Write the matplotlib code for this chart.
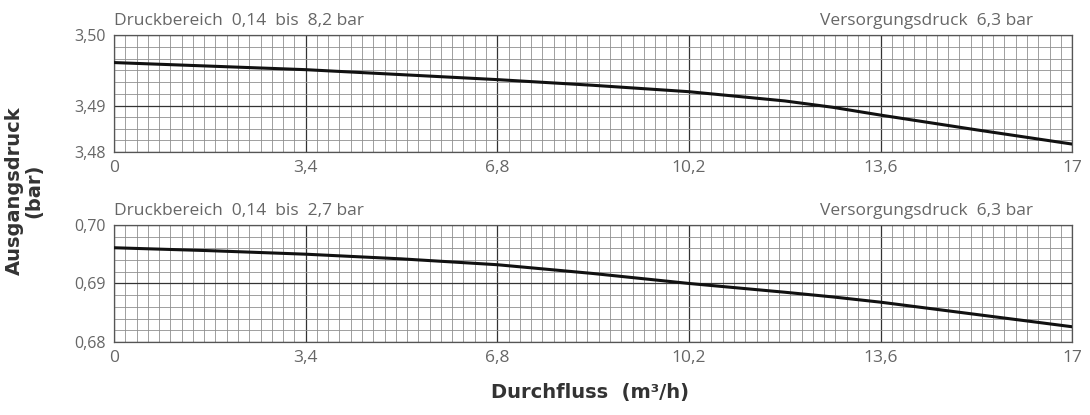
import numpy as np
import matplotlib
matplotlib.use('Agg')
import matplotlib.pyplot as plt
from matplotlib.ticker import FixedLocator

# Durchfluss (m3/h)
flow = [0, 1.7, 3.4, 5.1, 6.8, 8.5, 10.2, 11.9, 12.75, 13.6, 15.3, 17]
# Ausgangsdruck (bar), Druckbereich 0,14 bis 8,2 bar
p_high = [3.4961, 3.4956, 3.4951, 3.4944, 3.4937, 3.4929, 3.4920, 3.4907, 3.4897, 3.4880, 3.4848, 3.4817]
# Ausgangsdruck (bar), Druckbereich 0,14 bis 2,7 bar
p_low = [0.6961, 0.6956, 0.6950, 0.6942, 0.6932, 0.6917, 0.6900, 0.6885, 0.6877, 0.6868, 0.6847, 0.6826]

x_ticks = [0, 3.4, 6.8, 10.2, 13.6, 17]
x_labels = ['0', '3,4', '6,8', '10,2', '13,6', '17']

plt.rcParams['font.family'] = ['Open Sans', 'DejaVu Sans']

fig = plt.figure(figsize=(10.9, 4.15), dpi=100)
ax1 = fig.add_axes([0.1046, 0.634, 0.879, 0.282])
ax2 = fig.add_axes([0.1046, 0.176, 0.879, 0.282])

# obere Skala ist im Original nicht linear: 3,49 liegt bei ca. 39 % der Hoehe
frac = 0.393


def fwd(v):
    v = np.asarray(v, dtype=float)
    return np.where(v < 3.49, (v - 3.48) / 0.01 * frac, frac + (v - 3.49) / 0.01 * (1 - frac))


def inv(t):
    t = np.asarray(t, dtype=float)
    return np.where(t < frac, 3.48 + t / frac * 0.01, 3.49 + (t - frac) / (1 - frac) * 0.01)


ax1.set_yscale('function', functions=(fwd, inv))

panels = [
    (ax1, p_high, (3.48, 3.50), [3.48, 3.49, 3.50], ['3,48', '3,49', '3,50'],
     list(np.linspace(3.48, 3.49, 5)) + list(np.linspace(3.49, 3.50, 7)),
     'Druckbereich  0,14  bis  8,2 bar'),
    (ax2, p_low, (0.68, 0.70), [0.68, 0.69, 0.70], ['0,68', '0,69', '0,70'],
     list(np.linspace(0.68, 0.70, 11)),
     'Druckbereich  0,14  bis  2,7 bar'),
]

for ax, vals, ylim, yt, ytl, yminor, title in panels:
    ax.set_xlim(0, 17)
    ax.set_ylim(*ylim)
    ax.set_xticks(x_ticks)
    ax.set_xticklabels(x_labels)
    ax.set_yticks(yt)
    ax.set_yticklabels(ytl)
    ax.xaxis.set_minor_locator(FixedLocator(np.arange(0, 17.01, 0.2)))
    ax.yaxis.set_minor_locator(FixedLocator(yminor))
    ax.grid(which='minor', color='#8f8f8f', linewidth=0.6)
    ax.grid(which='major', color='#333333', linewidth=0.9)
    ax.set_axisbelow(True)
    ax.tick_params(which='both', length=0, labelcolor='#666666')
    ax.tick_params(axis='x', pad=6, labelsize=12.5)
    ax.tick_params(axis='y', pad=6, labelsize=11.5)
    for s in ax.spines.values():
        s.set_color('#555555')
        s.set_linewidth(0.9)
    ax.plot(flow, vals, color='#111111', linewidth=2.2, zorder=3)
    ax.text(0, 1.085, title, transform=ax.transAxes, fontsize=12.5,
            color='#666666', ha='left', va='baseline')
    ax.text(0.959, 1.085, 'Versorgungsdruck  6,3 bar', transform=ax.transAxes,
            fontsize=12.5, color='#666666', ha='right', va='baseline')

fig.text(0.022, 0.54, 'Ausgangsdruck\n(bar)', rotation=90, ha='center', va='center',
         fontsize=14, fontweight='bold', color='#333333', family=['DejaVu Sans'],
         linespacing=1.05)
fig.text(0.541, 0.055, 'Durchfluss  (m³/h)', ha='center', va='center',
         fontsize=14, fontweight='bold', color='#333333', family=['DejaVu Sans'])

fig.savefig('out.png', dpi=100)
